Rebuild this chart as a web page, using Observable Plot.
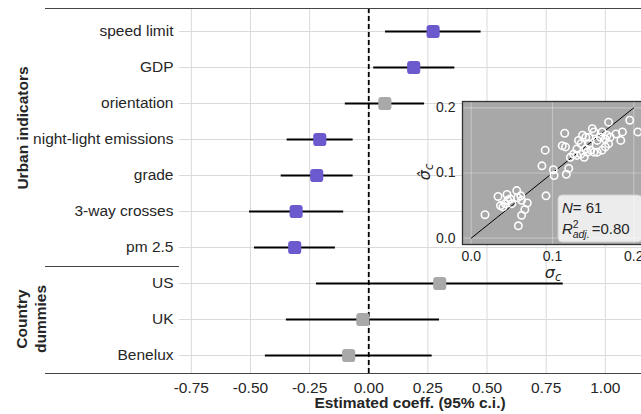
<!DOCTYPE html>
<html>
<head>
<meta charset="utf-8">
<script src="https://cdn.jsdelivr.net/npm/d3@7"></script>
<script src="https://cdn.jsdelivr.net/npm/@observablehq/plot@0.6"></script>
<style>
  body { margin: 0; background: white; }
  #wrap { position: relative; width: 641px; height: 414px; overflow: hidden; background: white; }
  #wrap svg { position: absolute; }
</style>
</head>
<body>
<div id="wrap"></div>
<script>
// ---- coefficient data ----
const terms = ["speed limit", "GDP", "orientation", "night-light emissions", "grade",
               "3-way crosses", "pm 2.5", "US", "UK", "Benelux"];
const coef   = [0.272, 0.190, 0.068, -0.207, -0.220, -0.307, -0.313, 0.300, -0.025, -0.085];
const ciLow  = [0.071, 0.021, -0.099, -0.345, -0.370, -0.504, -0.483, -0.221, -0.348, -0.437];
const ciHigh = [0.475, 0.364, 0.236, -0.066, -0.066, -0.106, -0.141, 0.822, 0.299, 0.268];
const significant = [true, true, false, true, true, true, true, false, false, false];
const xTicks = [-0.75, -0.5, -0.25, 0, 0.25, 0.5, 0.75, 1.0];
const groupUrban = "Urban indicators";
const groupCountry = ["Country", "dummies"];
const xLabel = "Estimated coeff. (95% c.i.)";

// ---- inset scatter data (observed sigma_c vs predicted) ----
const sigmaObs = [0.115,0.091,0.087,0.101,0.102,0.117,0.120,0.112,0.116,0.122,0.126,0.130,0.135,0.137,0.141,0.145,0.149,0.151,0.155,0.161,0.165,0.169,0.167,0.169,0.171,0.184,0.186,0.195,0.205,0.139,0.143,0.135,0.147,0.151,0.155,0.161,0.165,0.130,0.141,0.145,0.033,0.036,0.039,0.044,0.045,0.048,0.056,0.057,0.062,0.069,0.066,0.062,0.058,0.017,0.092,0.050,0.042,0.061,0.132,0.159,0.178];
const sigmaHat = [0.161,0.135,0.111,0.105,0.096,0.098,0.107,0.142,0.140,0.124,0.129,0.137,0.145,0.158,0.155,0.145,0.168,0.163,0.150,0.163,0.152,0.178,0.158,0.145,0.155,0.150,0.163,0.181,0.163,0.124,0.132,0.129,0.135,0.132,0.132,0.135,0.140,0.127,0.137,0.155,0.064,0.050,0.048,0.067,0.058,0.060,0.073,0.062,0.058,0.054,0.044,0.035,0.019,0.036,0.065,0.053,0.053,0.065,0.150,0.155,0.160];
const insetTicks = [0, 0.1, 0.2];
const diag = [0, 0.2];
const statN = "61";
const statR2 = "0.80";

const purple = "#6a5acd";
const grey = "#a9a9a9";
const ink = "#262626";
const font = "'Liberation Sans', Arial, Helvetica, sans-serif";

const rows = terms.map((t, i) => ({term: t, coef: coef[i], lo: ciLow[i], hi: ciHigh[i], sig: significant[i]}));

// rounded square symbol
const roundSquare = {
  draw(ctx, size) {
    const s = Math.sqrt(size), h = s / 2, r = s * 0.24;
    ctx.moveTo(-h + r, -h);
    ctx.lineTo(h - r, -h); ctx.arcTo(h, -h, h, -h + r, r);
    ctx.lineTo(h, h - r);  ctx.arcTo(h, h, h - r, h, r);
    ctx.lineTo(-h + r, h); ctx.arcTo(-h, h, -h, h - r, r);
    ctx.lineTo(-h, -h + r); ctx.arcTo(-h, -h, -h + r, -h, r);
    ctx.closePath();
  }
};

const W = 641, H = 414, mL = 179, mT = 8, mB = 41;

const main = Plot.plot({
  width: W, height: H,
  marginLeft: mL, marginRight: 0, marginTop: mT, marginBottom: mB,
  style: {fontFamily: font, fontSize: "15.5px", color: ink, background: "transparent"},
  x: {domain: [-0.8, 1.153]},
  y: {type: "point", domain: terms, range: [30, 356.7], padding: 0},
  marks: [
    Plot.gridX(xTicks, {stroke: "#dadada", strokeOpacity: 1, strokeWidth: 1}),
    Plot.gridY(terms, {stroke: "#dadada", strokeOpacity: 1, strokeWidth: 1}),
    Plot.ruleX([0], {stroke: "black", strokeWidth: 1.8, strokeDasharray: "5,3"}),
    Plot.ruleY(rows, {y: "term", x1: "lo", x2: "hi", stroke: "black", strokeWidth: 2}),
    Plot.dot(rows, {x: "coef", y: "term", symbol: roundSquare, r: 7.4,
                    fill: d => d.sig ? purple : grey, stroke: "none"}),
    Plot.axisX(xTicks, {tickSize: 0, tickPadding: 8, tickFormat: d => d.toFixed(2), label: null, fill: ink}),
    Plot.axisY(terms, {tickSize: 0, tickPadding: 6, label: null, fill: ink})
  ]
});
main.style.left = "0px"; main.style.top = "0px";
document.getElementById("wrap").appendChild(main);

const sm = d3.select(main);
const yBot = H - mB;
// spines
sm.append("line").attr("x1", 45).attr("x2", W).attr("y1", mT + 0.5).attr("y2", mT + 0.5)
  .attr("stroke", "#444").attr("stroke-width", 1.2);
sm.append("line").attr("x1", 45).attr("x2", W).attr("y1", yBot + 0.5).attr("y2", yBot + 0.5)
  .attr("stroke", "#444").attr("stroke-width", 1.2);
sm.append("line").attr("x1", 45).attr("x2", mL).attr("y1", 266.5).attr("y2", 266.5)
  .attr("stroke", "#444").attr("stroke-width", 1.2);
// x axis title
sm.append("text").attr("x", (mL + W) / 2).attr("y", 408)
  .attr("text-anchor", "middle").attr("font-weight", "bold").attr("font-size", 15.5)
  .attr("font-family", font).attr("fill", ink).text(xLabel);
// group labels
sm.append("text").attr("transform", "translate(27.5,128) rotate(-90)")
  .attr("text-anchor", "middle").attr("font-weight", "bold").attr("font-size", 15.5)
  .attr("font-family", font).attr("fill", ink).text(groupUrban);
sm.append("text").attr("transform", "translate(26.5,319) rotate(-90)")
  .attr("text-anchor", "middle").attr("font-weight", "bold").attr("font-size", 15.5)
  .attr("font-family", font).attr("fill", ink).text(groupCountry[0]);
sm.append("text").attr("transform", "translate(46,319) rotate(-90)")
  .attr("text-anchor", "middle").attr("font-weight", "bold").attr("font-size", 15.5)
  .attr("font-family", font).attr("fill", ink).text(groupCountry[1]);

// ---- inset ----
const iL = 415, iT = 95;
const inset = Plot.plot({
  width: 240, height: 192,
  marginLeft: 47, marginTop: 6, marginRight: 0, marginBottom: 43,
  style: {fontFamily: font, fontSize: "14px", color: ink, background: "transparent"},
  x: {domain: [-0.0107, 0.2267]},
  y: {domain: [-0.0097, 0.2097]},
  marks: [
    Plot.frame({fill: "#a8a8a8", stroke: "none"}),
    Plot.gridX(insetTicks, {stroke: "white", strokeOpacity: 0.3, strokeWidth: 1.2}),
    Plot.gridY(insetTicks, {stroke: "white", strokeOpacity: 0.3, strokeWidth: 1.2}),
    Plot.line(diag, {x: d => d, y: d => d, stroke: "black", strokeWidth: 1}),
    Plot.dot(sigmaObs.map((v, i) => ({x: v, y: sigmaHat[i]})),
             {x: "x", y: "y", r: 3.7, stroke: "white", strokeWidth: 1.6, fill: "none"}),
    Plot.frame({stroke: "#333", strokeWidth: 1.3}),
    Plot.axisX(insetTicks, {tickSize: 0, tickPadding: 7, tickFormat: d => d.toFixed(1), label: null, fill: ink}),
    Plot.axisY(insetTicks, {tickSize: 0, tickPadding: 7, tickFormat: d => d.toFixed(1), label: null, fill: ink})
  ]
});
inset.style.left = iL + "px"; inset.style.top = iT + "px";
document.getElementById("wrap").appendChild(inset);

const si = d3.select(inset);
// stats box
si.append("rect").attr("x", 143).attr("y", 100).attr("width", 84).attr("height", 47).attr("rx", 4)
  .attr("fill", "white").attr("fill-opacity", 0.78).attr("stroke", "#d0d0d0");
const t1 = si.append("text").attr("x", 147).attr("y", 118).attr("text-anchor", "start")
  .attr("font-family", font).attr("font-size", 15).attr("fill", ink);
t1.append("tspan").attr("font-style", "italic").text("N");
t1.append("tspan").text("= " + statN);
const t2 = si.append("text").attr("x", 147).attr("y", 138.5).attr("text-anchor", "start")
  .attr("font-family", font).attr("font-size", 15).attr("fill", ink);
t2.append("tspan").attr("font-style", "italic").text("R");
t2.append("tspan").attr("font-size", 10.5).attr("dy", -6).text("2");
t2.append("tspan").attr("font-size", 10.5).attr("font-style", "italic").attr("dx", -6).attr("dy", 10).text("adj.");
t2.append("tspan").attr("dy", -4).attr("dx", 2).text("=" + statR2);
// axis labels
const xl = si.append("text").attr("x", 138).attr("y", 183).attr("text-anchor", "middle")
  .attr("font-family", "'DejaVu Sans', sans-serif").attr("font-style", "italic").attr("font-size", 16).attr("fill", ink);
xl.append("tspan").text("σ");
xl.append("tspan").attr("font-size", 11.5).attr("dy", 3).text("c");
const yl = si.append("text").attr("transform", "translate(15,77) rotate(-90)").attr("text-anchor", "middle")
  .attr("font-family", "'DejaVu Sans', sans-serif").attr("font-style", "italic").attr("font-size", 16).attr("fill", ink);
yl.append("tspan").text("σ\u0302");
yl.append("tspan").attr("font-size", 11.5).attr("dy", 3).text("c");
</script>
</body>
</html>
